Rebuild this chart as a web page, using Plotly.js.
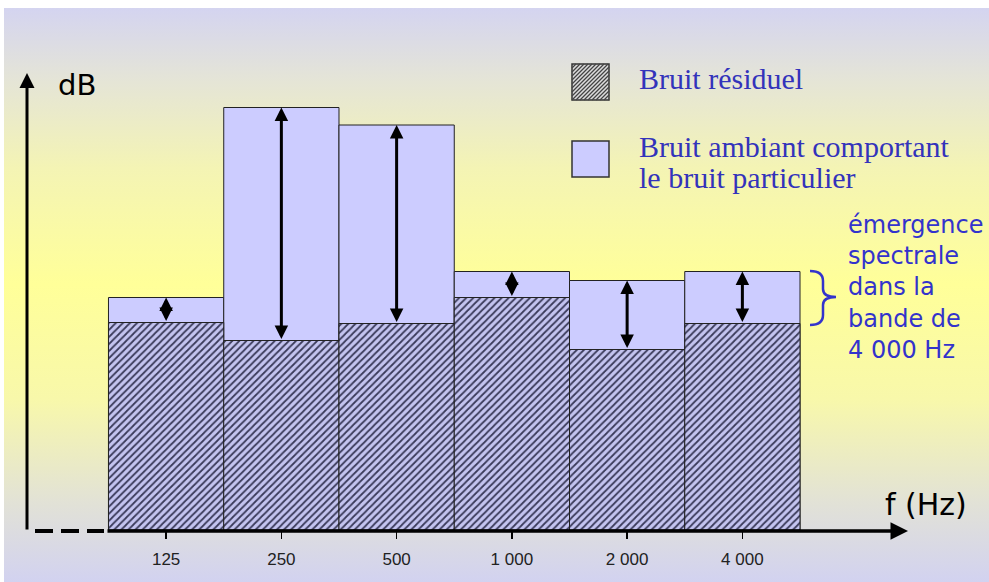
<!DOCTYPE html>
<html>
<head>
<meta charset="utf-8">
<script src="https://cdn.plot.ly/plotly-3.0.1.min.js"></script>
<style>
html,body{margin:0;padding:0;background:#fff;}
#wrap{position:absolute;left:4px;top:8px;width:985px;height:574px;
background:linear-gradient(to bottom,#d4d4f0 0%,#e4e4d8 12%,#f4f4b4 28%,#ffff99 48%,#f8f8aa 68%,#e2e2d6 86%,#d2d2f0 100%);}
#chart{position:absolute;left:-4px;top:-8px;width:989px;height:582px;}
</style>
</head>
<body>
<div id="wrap"><div id="chart"></div></div>
<script>
var bands = ["125", "250", "500", "1 000", "2 000", "4 000"];
var residuel = [41.5, 37.9, 41.3, 46.5, 36.1, 41.3];
var ambiant = [46.5, 84.5, 81.0, 51.7, 49.9, 51.7];
var legendLabels = ["Bruit résiduel", "Bruit ambiant comportant", "le bruit particulier"];
var noteText = "émergence<br>spectrale<br>dans la<br>bande de<br>4 000 Hz";

var pos = bands.map(function(_, i){ return i; });

// plot area geometry (pixels) used only for placing decorations
var L = 27, T = 30, W = 881, H = 500;
function PX(px){ return (px - L) / W; }
function PY(py){ return (T + H - py) / H; }

var traces = [
  {
    type: "bar", x: pos, y: ambiant, width: 1,
    name: "Bruit ambiant comportant le bruit particulier",
    marker: {color: "#ccccff", line: {color: "#222", width: 1}},
    hoverinfo: "skip"
  },
  {
    type: "bar", x: pos, y: residuel, width: 1,
    name: "Bruit résiduel",
    marker: {color: "#ccccff", line: {color: "#222", width: 1},
      pattern: {shape: "/", fgcolor: "#3a3a5a", bgcolor: "#c4c4f0", size: 5, solidity: 0.35}},
    hoverinfo: "skip"
  }
];

var ann = [];
pos.forEach(function(p, i){
  ann.push({x: p, y: ambiant[i], ax: p, ay: residuel[i], xref: "x", yref: "y", axref: "x", ayref: "y",
    showarrow: true, arrowhead: 2, startarrowhead: 2, arrowside: "end+start", arrowsize: 0.9, startarrowsize: 0.9,
    arrowwidth: 3, arrowcolor: "#000", text: "", standoff: 0, startstandoff: 0});
});
// axes arrows
ann.push({x: 0, y: PY(73), xref: "paper", yref: "paper", ax: 0, ay: PY(531), axref: "paper", ayref: "paper",
  showarrow: true, arrowhead: 2, arrowsize: 1, arrowwidth: 3, arrowcolor: "#000", text: ""});
ann.push({x: PX(908), y: PY(531), xref: "paper", yref: "paper", ax: PX(106), ay: PY(531), axref: "paper", ayref: "paper",
  showarrow: true, arrowhead: 2, arrowsize: 1, arrowwidth: 3.5, arrowcolor: "#000", text: ""});
ann.push({x: PX(56), y: PY(85), xref: "paper", yref: "paper", text: "dB", showarrow: false,
  xanchor: "left", yanchor: "middle", font: {family: "DejaVu Sans", size: 29, color: "#000"}});
ann.push({x: PX(883), y: PY(504), xref: "paper", yref: "paper", text: "f (Hz)", showarrow: false,
  xanchor: "left", yanchor: "middle", font: {family: "DejaVu Sans", size: 30, color: "#000"}});
ann.push({x: PX(846), y: PY(287), xref: "paper", yref: "paper", text: noteText,
  showarrow: false, xanchor: "left", yanchor: "middle", align: "left",
  font: {family: "DejaVu Sans", size: 24, color: "#3333cc"}});
// legend texts
var serif = {family: "Liberation Serif, Times New Roman, serif", size: 30, color: "#3333bb"};
ann.push({x: PX(637), y: PY(79), xref: "paper", yref: "paper", text: legendLabels[0], showarrow: false,
  xanchor: "left", yanchor: "middle", font: serif});
ann.push({x: PX(637), y: PY(146), xref: "paper", yref: "paper", text: legendLabels[1], showarrow: false,
  xanchor: "left", yanchor: "middle", font: serif});
ann.push({x: PX(637), y: PY(177), xref: "paper", yref: "paper", text: legendLabels[2], showarrow: false,
  xanchor: "left", yanchor: "middle", font: serif});

var shapes = [
  {type: "line", xref: "paper", yref: "paper", x0: PX(35), x1: PX(104), y0: PY(531), y1: PY(531),
    line: {color: "#000", width: 4, dash: "18px,8px"}},
  // brace
  {type: "path", xref: "paper", yref: "paper", line: {color: "#3333cc", width: 2.5},
    path: "M" + PX(810) + "," + PY(271) + " Q" + PX(823) + "," + PY(271) + " " + PX(823) + "," + PY(281) +
      " L" + PX(823) + "," + PY(289) + " Q" + PX(823) + "," + PY(297) + " " + PX(836) + "," + PY(297) +
      " Q" + PX(823) + "," + PY(297) + " " + PX(823) + "," + PY(305) +
      " L" + PX(823) + "," + PY(315) + " Q" + PX(823) + "," + PY(325) + " " + PX(810) + "," + PY(325)},
  // legend swatches
  {type: "rect", xref: "paper", yref: "paper", x0: PX(572), x1: PX(609), y0: PY(64), y1: PY(100),
    fillcolor: "#dcdcdc", line: {color: "#333", width: 1.5}},
  {type: "rect", xref: "paper", yref: "paper", x0: PX(572), x1: PX(609), y0: PY(141), y1: PY(177),
    fillcolor: "#ccccff", line: {color: "#333", width: 1.5}}
];
// hatch lines inside the residual swatch
(function(){
  var x0 = 572, x1 = 609, y0 = 64, y1 = 100, step = 4;
  for (var c = x0 - (y1 - y0) + step; c < x1; c += step) {
    var ax = c, ay = y1, bx = c + (y1 - y0), by = y0;
    if (ax < x0) { ay = y1 - (x0 - ax); ax = x0; }
    if (bx > x1) { by = y0 + (bx - x1); bx = x1; }
    shapes.push({type: "line", xref: "paper", yref: "paper", x0: PX(ax), y0: PY(ay), x1: PX(bx), y1: PY(by),
      line: {color: "#444", width: 1.2}});
  }
})();

var layout = {
  width: 989, height: 582,
  margin: {l: L, r: 989 - L - W, t: T, b: 582 - T - H},
  paper_bgcolor: "rgba(0,0,0,0)", plot_bgcolor: "rgba(0,0,0,0)",
  barmode: "overlay", bargap: 0,
  showlegend: false,
  xaxis: {range: [-1.207, 6.437], tickvals: pos, ticktext: bands, ticks: "outside", ticklen: 8, tickwidth: 1.5,
    tickcolor: "#000", showline: false, showgrid: false, zeroline: false, ticklabelstandoff: 6,
    tickfont: {family: "Liberation Sans, Arial", size: 17, color: "#222"}, fixedrange: true},
  yaxis: {range: [0, 100], showticklabels: false, showgrid: false, zeroline: false, showline: false, ticks: "", fixedrange: true},
  shapes: shapes,
  annotations: ann
};
Plotly.newPlot("chart", traces, layout, {displayModeBar: false, staticPlot: true});
</script>
</body>
</html>
